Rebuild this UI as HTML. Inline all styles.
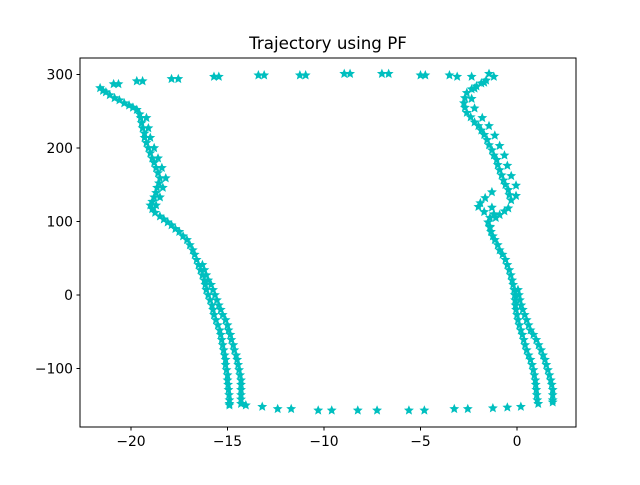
<!DOCTYPE html>
<html><head><meta charset="utf-8"><style>
body{margin:0;background:#fff;}
svg text{font-family:"DejaVu Sans","Liberation Sans",sans-serif;fill:#000;}
</style></head><body>
<svg id="chart" width="640" height="480" viewBox="0 0 640 480" xmlns="http://www.w3.org/2000/svg">
<rect width="640" height="480" fill="#fff"/>
<text x="328" y="49" font-size="16.7" text-anchor="middle">Trajectory using PF</text>
<g id="marks"></g>
<rect x="80" y="58" width="496" height="369" fill="none" stroke="#000" stroke-width="1"/>
<g id="xticks"></g>
<g id="yticks"></g>
</svg>
<script>
const xTickValues=[-20,-15,-10,-5,0];
const yTickValues=[-100,0,100,200,300];
const xTickLabels=["\u221220","\u221215","\u221210","\u22125","0"];
const yTickLabels=["\u2212100","0","100","200","300"];
const trajX=[
-21.6,-21.1,-20.6,-20.1,-19.7,-19.5,-19.4,-19.3,-19.1,-18.9,-18.7,-18.5,-18.65,-18.8,-19.0,-18.75,-18.3,-17.9,-17.5,-17.1,-16.8,-16.6,
-21.3,-20.85,-20.35,-19.9,-19.55,-19.45,-19.3,-19.2,-19.0,-18.8,-18.6,-18.55,-18.7,-18.9,-18.9,-18.5,-18.1,-17.7,-17.3,-16.95,-16.7,
-19.2,-19.1,-19.0,-18.8,-18.6,-18.4,-18.2,-18.35,-18.5,-18.7,
-16.4,-16.2,-16.1,-15.9,-15.75,-15.6,-15.4,-15.3,-15.2,-15.1,-15.05,-15.0,-14.95,-14.9,
-16.5,-16.3,-16.15,-16.0,-15.8,-15.7,-15.5,-15.35,-15.25,-15.15,-15.1,-15.0,-14.97,-14.92,-14.9,
-16.3,-16.1,-15.85,-15.65,-15.45,-15.25,-15.0,-14.85,-14.7,-14.55,-14.45,-14.35,-14.3,-14.3,-14.3,
-16.2,-16.0,-15.75,-15.55,-15.35,-15.1,-14.95,-14.8,-14.65,-14.5,-14.4,-14.3,-14.3,-14.3,
-14.9,-14.05,-13.2,-12.4,-11.7,-10.3,-9.6,-8.25,-7.25,-5.6,-4.8,-3.25,-2.55,-1.25,-0.5,0.2,1.1,1.85,
1.05,1.0,0.95,0.85,0.7,0.5,0.35,0.2,0.05,-0.05,-0.1,-0.15,-0.25,-0.4,-0.6,-0.9,-1.15,-1.35,
1.02,0.97,0.9,0.78,0.6,0.42,0.28,0.12,0,-0.08,-0.12,-0.2,-0.32,-0.5,-0.75,-1.0,-1.25,-1.4,
1.85,1.85,1.75,1.6,1.45,1.25,1.0,0.7,0.5,0.3,0.15,0.05,
1.85,1.8,1.68,1.52,1.35,1.12,0.85,0.6,0.4,0.22,0.1,
-1.5,-1.7,-2.0,-1.4,-0.9,-0.45,-0.3,-0.45,-0.7,-0.9,-1.05,-1.3,-1.55,-1.85,-2.2,-2.6,-2.75,-2.6,-2.1,-1.6,-1.45,-1.65,-1.3,
-1.1,-1.3,-0.05,-0.05,-0.3,-0.5,-0.65,-0.9,-1.15,-1.45,-1.8,-2.2,-2.35,-2.2,-1.7,-1.2,
-0.4,-0.6,-0.8,-1.0,-1.2,-1.45,-1.7,-2.0,-2.4,-2.7,-2.7,-2.35,-1.85,-1.9,-1.2,-0.65,-1.4,
-2.35,-3.1,-3.5,-4.75,-5.0,-6.65,-7.0,-8.65,-8.95,-10.95,-11.25,-13.1,-13.4,-15.45,-15.7,-17.55,-17.9,-19.4,-19.7,-20.65,-20.9,-21.45
];
const trajY=[
281.6,272,265,258,252,241,227,214,200,186,173,159,146,133,122,112,103,95,86,75,61,48,
276,268,261,255,246,234,220,207,193,180,166,152,139,127,117,107,99,90,80,68,55,
241,227,214,200,186,173,159,146,133,122,
34,20,7,-7,-20,-34,-48,-61,-75,-88,-102,-116,-129,-143,
41,27,14,0,-14,-27,-41,-54,-68,-82,-95,-109,-122,-136,-148,
41,27,14,0,-14,-27,-41,-54,-68,-82,-95,-109,-122,-136,-148,
34,20,7,-7,-20,-34,-48,-61,-75,-88,-102,-116,-129,-142,
-150,-150,-152,-155,-155,-157,-157,-157,-157,-157,-157,-155,-155,-154,-153,-152,-148,-146,
-143,-129,-116,-102,-88,-75,-61,-48,-34,-20,-7,7,20,34,48,61,75,86,
-136,-122,-109,-95,-82,-68,-54,-41,-27,-14,0,14,27,41,55,68,80,92,
-143,-129,-116,-102,-88,-75,-61,-48,-34,-20,-7,7,
-136,-122,-109,-95,-82,-68,-54,-41,-27,-14,0,
99,113,120,105,109,118,129,143,156,170,184,197,211,224,235,248,261,275,284,292,301,132,140,
105,119,135,149,162,176,190,203,217,230,241,254,267,281,289,297,
136,150,163,177,190,204,218,230,242,255,268,280,288,125,110,114,93,
297,297,299,299,299,301,301,301,301,299,299,299,299,297,297,294,294,291,291,287,287,278
];
const NS="http://www.w3.org/2000/svg";
function xScale(v){return 517+v*19.3;}
function yScale(v){return 295-v*0.735;}
function starPts(cx,cy,R){const r=R*0.45;let p=[];for(let i=0;i<10;i++){const a=-Math.PI/2+i*Math.PI/5;const rr=i%2?r:R;p.push((cx+rr*Math.cos(a)).toFixed(2)+","+(cy+rr*Math.sin(a)).toFixed(2));}return p.join(" ");}
const marks=document.getElementById("marks");
for(let i=0;i<trajX.length;i++){
 const s=document.createElementNS(NS,"polygon");
 s.setAttribute("points",starPts(xScale(trajX[i]),yScale(trajY[i]),5.2));
 s.setAttribute("fill","#00bfbf");
 
 
 marks.appendChild(s);
}
const xg=document.getElementById("xticks");
xTickValues.forEach((v,i)=>{
 const x=xScale(v);
 const l=document.createElementNS(NS,"line");
 l.setAttribute("x1",x);l.setAttribute("x2",x);l.setAttribute("y1",427);l.setAttribute("y2",430.5);l.setAttribute("stroke","#000");
 
 
 xg.appendChild(l);
 const t=document.createElementNS(NS,"text");
 t.setAttribute("x",x);t.setAttribute("y",446);t.setAttribute("font-size","13.9");t.setAttribute("text-anchor","middle");
 t.textContent=xTickLabels[i];
 
 
 xg.appendChild(t);
});
const yg=document.getElementById("yticks");
yTickValues.forEach((v,i)=>{
 const y=yScale(v);
 const l=document.createElementNS(NS,"line");
 l.setAttribute("x1",76.5);l.setAttribute("x2",80);l.setAttribute("y1",y);l.setAttribute("y2",y);l.setAttribute("stroke","#000");
 
 
 yg.appendChild(l);
 const t=document.createElementNS(NS,"text");
 t.setAttribute("x",73);t.setAttribute("y",y+5);t.setAttribute("font-size","13.9");t.setAttribute("text-anchor","end");
 t.textContent=yTickLabels[i];
 
 
 yg.appendChild(t);
});
</script>
</body></html>
